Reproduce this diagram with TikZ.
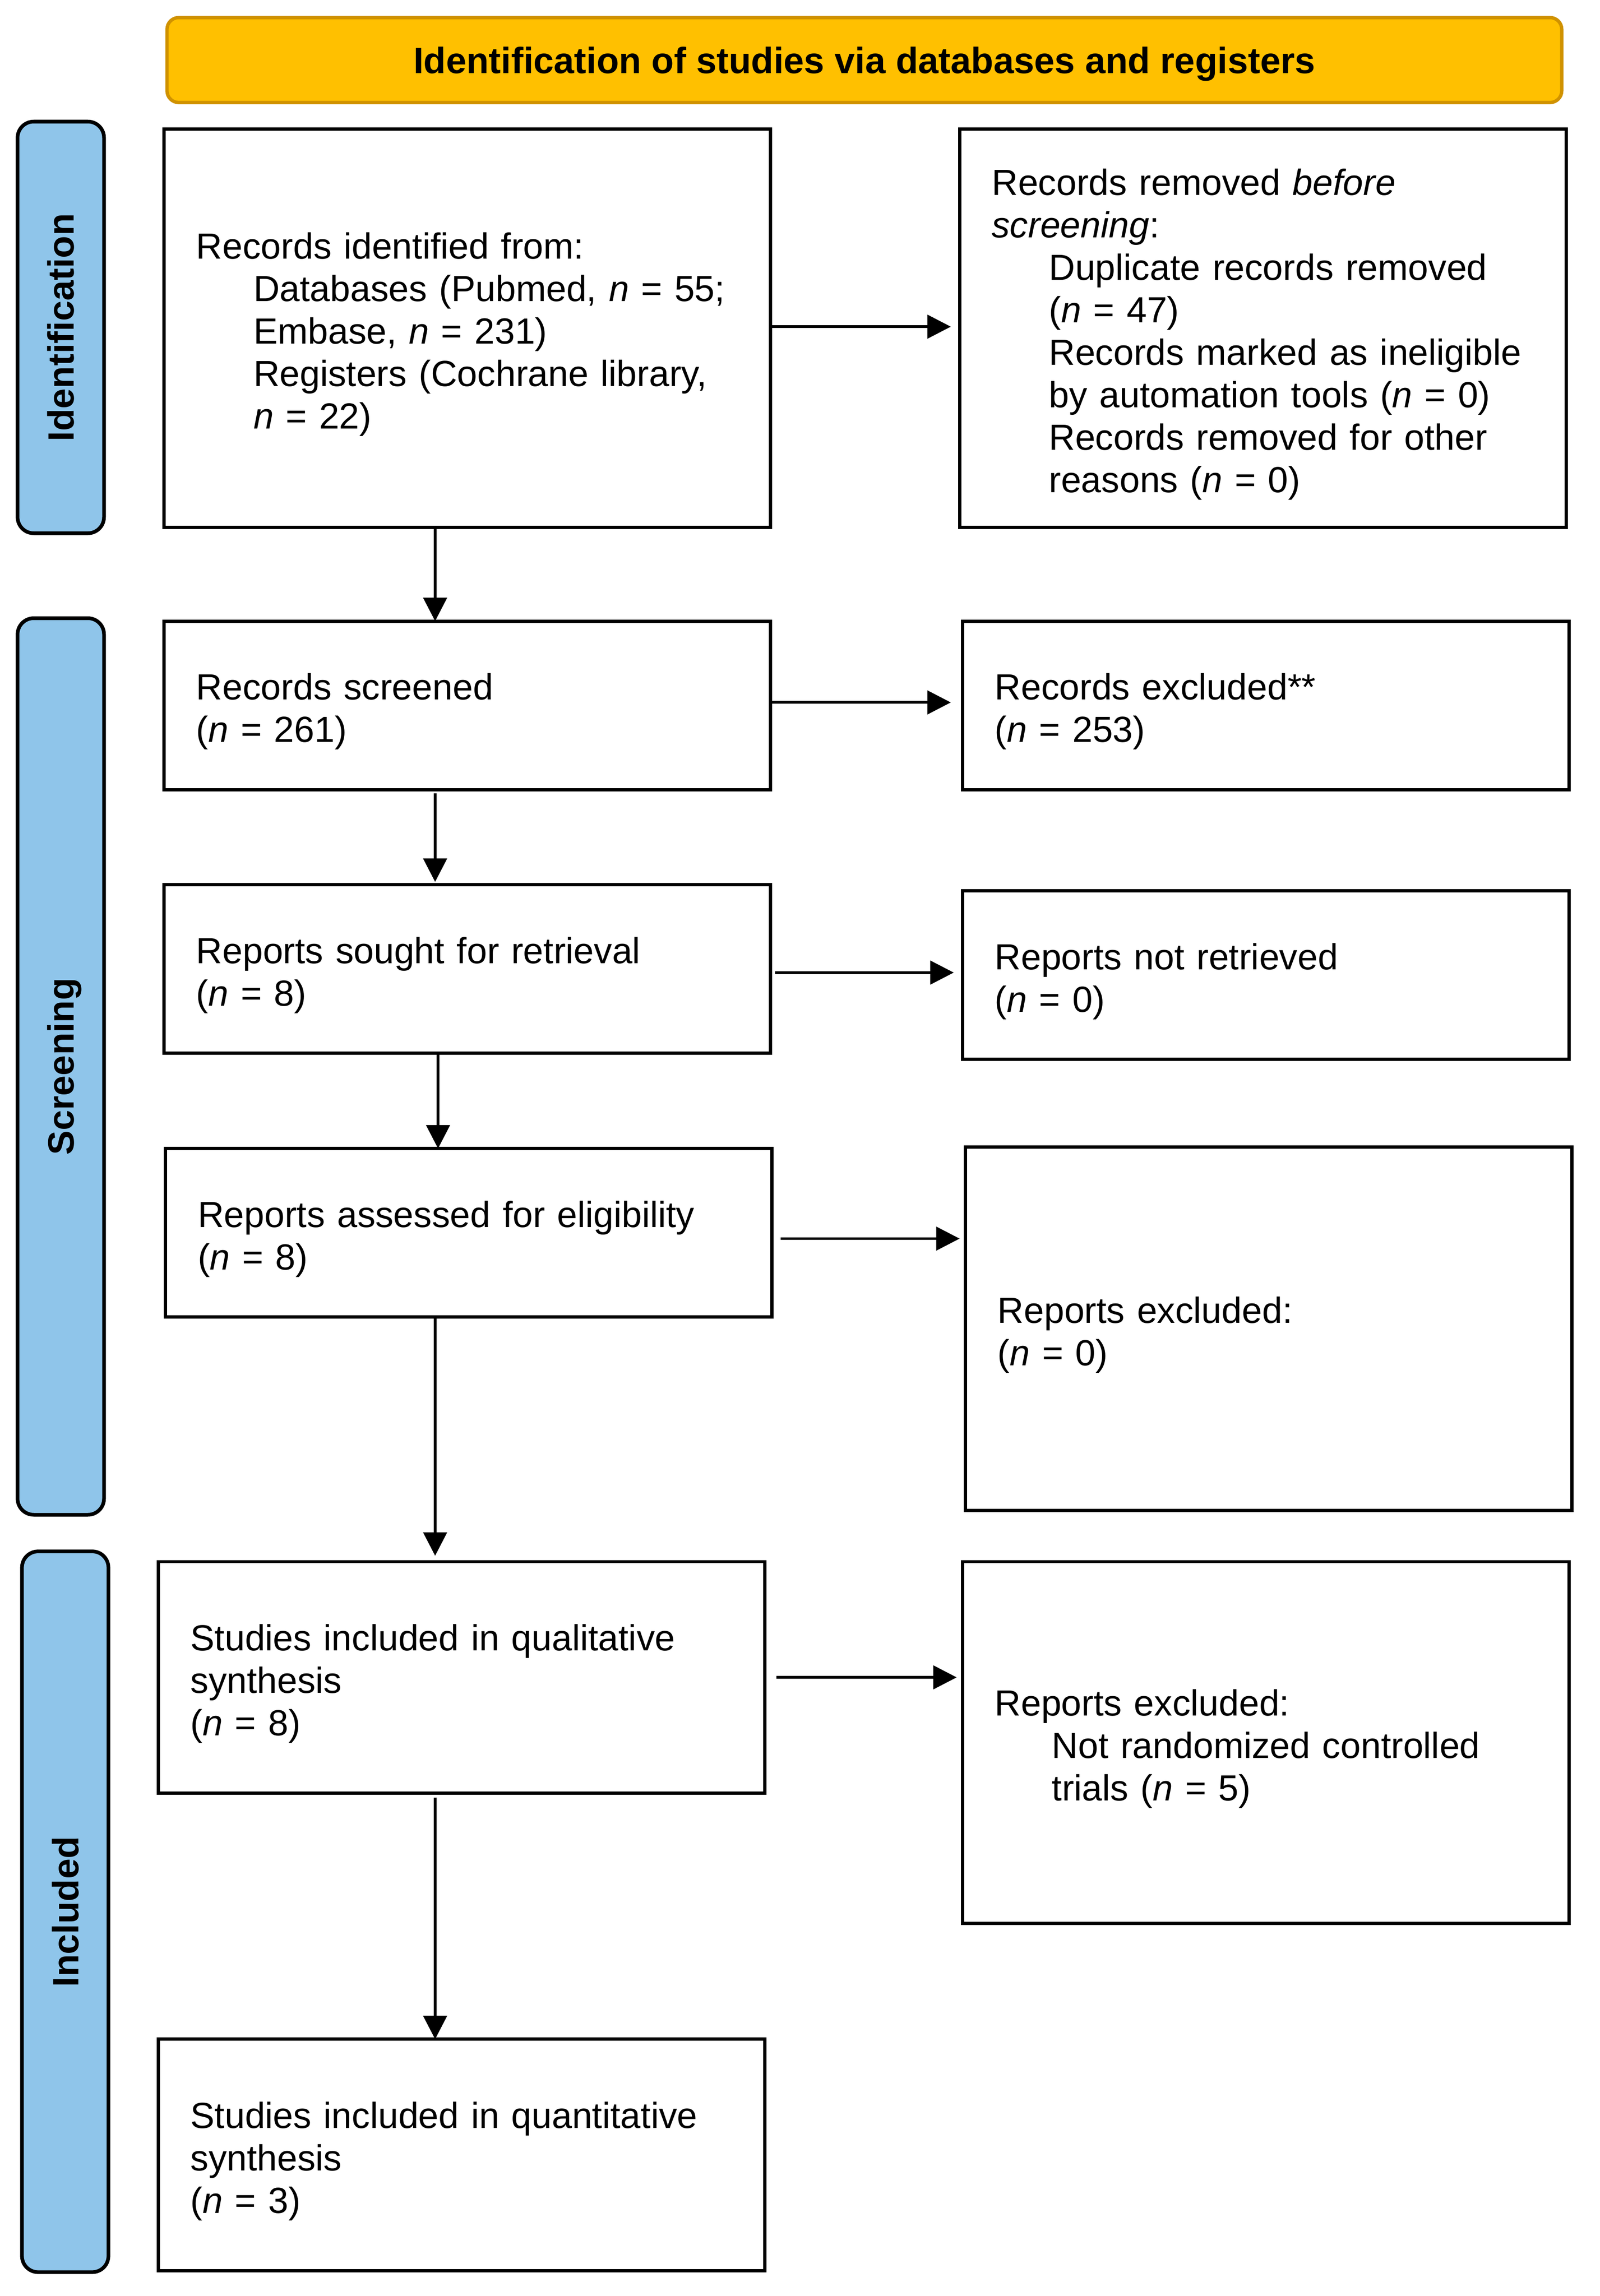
\documentclass[tikz,border=0pt]{standalone}
\usepackage{fontspec}
\setmainfont{Liberation Sans}
\usetikzlibrary{arrows.meta,calc}
\definecolor{hdrfill}{HTML}{FFC000}
\definecolor{hdrline}{HTML}{D09200}
\definecolor{sidefill}{HTML}{8FC5EA}
\newcommand\myind{\hspace*{39pt}}
\newcommand\mytop{\rule{0pt}{27pt}}
\newcommand\mybot{\rule[-5.5pt]{0pt}{5.5pt}}
\begin{document}
\begin{tikzpicture}[x=1pt,y=-1pt,
  box/.style={draw=black, line width=2.2pt, fill=white, anchor=north west,
    align=left, inner xsep=22pt, inner ysep=0pt, outer sep=0pt,
    text width=370pt, font=\fontsize{24.8}{29}\selectfont},
  side/.style={draw=black, line width=2.5pt, fill=sidefill, rounded corners=11pt,
    rotate=90, inner sep=0pt, outer sep=0pt, text height=18pt, text depth=0pt,
    font=\bfseries\fontsize{25}{29}\selectfont},
  arr/.style={line width=1.9pt, -{Triangle[length=16pt,width=16pt]}}]
\useasboundingbox (0,0) rectangle (1092,1567.3);

% header
\node[draw=hdrline, fill=hdrfill, line width=2.3pt, rounded corners=8pt,
  minimum width=952pt, minimum height=58pt, inner sep=0pt,
  text height=18pt, text depth=0pt,
  font=\bfseries\fontsize{25}{29}\selectfont] (hdr) at (590,41)
  {Identification of studies via databases and registers};

% side labels
\node[side, minimum width=281pt, minimum height=59pt] (sid) at (41.5,223.5) {Identification};
\node[side, minimum width=612pt, minimum height=59pt] (sscr) at (41.5,728) {Screening};
\node[side, minimum width=492pt, minimum height=59pt] (sinc) at (44.5,1305) {Included};

% boxes
\node[box, minimum height=272pt] (b1) at (112,88)
  {\mytop Records identified from:\\
   \myind Databases (Pubmed, \textit{n} = 55;\\
   \myind Embase, \textit{n} = 231)\\
   \myind Registers (Cochrane library,\\
   \myind \textit{n} = 22)\mybot};
\node[box, minimum height=272pt] (b2) at (655,88)
  {\mytop Records removed \textit{before}\\
   \textit{screening}:\\
   \myind Duplicate records removed\\
   \myind (\textit{n} = 47)\\
   \myind Records marked as ineligible\\
   \myind by automation tools (\textit{n} = 0)\\
   \myind Records removed for other\\
   \myind reasons (\textit{n} = 0)\mybot};
\node[box, minimum height=115pt] (b3) at (112,424)
  {\mytop Records screened\\(\textit{n} = 261)\mybot};
\node[box, minimum height=115pt] (b4) at (657,424)
  {\mytop Records excluded**\\(\textit{n} = 253)\mybot};
\node[box, minimum height=115pt] (b5) at (112,604)
  {\mytop Reports sought for retrieval\\(\textit{n} = 8)\mybot};
\node[box, minimum height=115pt] (b6) at (657,608)
  {\mytop Reports not retrieved\\(\textit{n} = 0)\mybot};
\node[box, minimum height=115pt] (b7) at (113,784)
  {\mytop Reports assessed for eligibility\\(\textit{n} = 8)\mybot};
\node[box, minimum height=248pt] (b8) at (659,783)
  {\mytop Reports excluded:\\(\textit{n} = 0)\mybot};
\node[box, minimum height=158pt] (b9) at (108,1066)
  {\mytop Studies included in qualitative\\synthesis\\(\textit{n} = 8)\mybot};
\node[box, minimum height=247pt] (b10) at (657,1066)
  {\mytop Reports excluded:\\
   \myind Not randomized controlled\\
   \myind trials (\textit{n} = 5)\mybot};
\node[box, minimum height=158pt] (b11) at (108,1392)
  {\mytop Studies included in quantitative\\synthesis\\(\textit{n} = 3)\mybot};

% vertical guides
\coordinate (vx) at (297,0);
\coordinate (vy) at (299,0);

% vertical arrows
\draw[arr] (b1.south -| vx) -- (b3.north -| vx);
\draw[arr, shorten <=2.5pt, shorten >=2pt] (b3.south -| vx) -- (b5.north -| vx);
\draw[arr] (b5.south -| vy) -- (b7.north -| vy);
\draw[arr, shorten >=4pt] (b7.south -| vx) -- (b9.north -| vx);
\draw[arr, shorten <=3pt] (b9.south -| vx) -- (b11.north -| vx);

% horizontal arrows
\draw[arr, shorten >=6pt] ([yshift=1pt]b1.east) -- ([yshift=1pt]b1.east -| b2.west);
\draw[arr, shorten >=8pt] ([yshift=2pt]b3.east) -- ([yshift=2pt]b3.east -| b4.west);
\draw[arr, shorten <=3pt, shorten >=6pt] ([yshift=-2.4pt]b5.east) -- ([yshift=-2.4pt]b5.east -| b6.west);
\draw[arr, shorten <=6pt, shorten >=4pt] ([yshift=-4pt]b7.east) -- ([yshift=-4pt]b7.east -| b8.west);
\draw[arr, shorten <=8pt, shorten >=4pt] (b9.east) -- (b9.east -| b10.west);
\end{tikzpicture}
\end{document}
